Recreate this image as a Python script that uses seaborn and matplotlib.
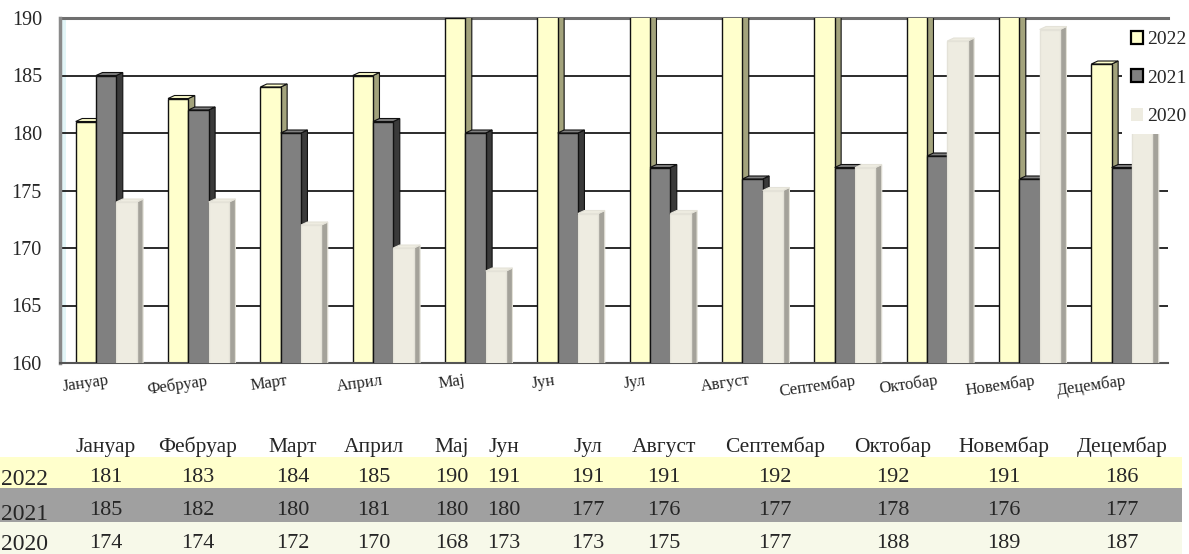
#!/usr/bin/env python3
"""
Monthly values 2020-2022: pseudo-3D clustered bars with a data table underneath.
"""

import pandas as pd
import seaborn as sns
import matplotlib.pyplot as plt
from matplotlib.patches import Polygon, Rectangle, Patch


months = ["Јануар", "Фебруар", "Март", "Април", "Мај", "Јун", "Јул",
          "Август", "Септембар", "Октобар", "Новембар", "Децембар"]
years = ["2022", "2021", "2020"]
values_2022 = [181, 183, 184, 185, 190, 191, 191, 191, 192, 192, 191, 186]
values_2021 = [185, 182, 180, 181, 180, 180, 177, 176, 177, 178, 176, 177]
values_2020 = [174, 174, 172, 170, 168, 173, 173, 175, 177, 188, 189, 187]
y_ticks = [160, 165, 170, 175, 180, 185, 190]

W, H = 1189, 554

front = {"2022": "#FFFFCC", "2021": "#808080", "2020": "#EEECE1"}
side = {"2022": "#A3A37C", "2021": "#3A3A3A", "2020": "#A4A29A"}
edge = {"2022": "#111111", "2021": "#111111", "2020": "#E4E2D8"}
band = {"2022": "#FFFFCC", "2021": "#A0A0A0", "2020": "#F7F9E9"}


def fx(px):
    return px / W


def fy(py):
    return 1 - py / H


def build_frame():
    series = {"2022": values_2022, "2021": values_2021, "2020": values_2020}
    rows = []
    for yr in years:
        for m, v in zip(months, series[yr]):
            rows.append({"month": m, "year": yr, "value": v})
    return pd.DataFrame(rows), series


def draw_chart(fig, df):
    ax = fig.add_axes([fx(60), fy(363), fx(1168 - 60), (363 - 18) / H])
    ax.set_axisbelow(True)
    sns.barplot(data=df, x="month", y="value", hue="year", hue_order=years,
                order=months, palette=front, width=0.66, saturation=1,
                legend=False, ax=ax)
    ax.set_ylim(160, 190)
    ax.set_xlim(-0.5, 11.5)

    # fake depth: side and top faces built from each seaborn bar
    dx, dy = 0.07, 0.26
    for k, (yr, cont) in enumerate(zip(years, ax.containers)):
        for bar in cont:
            x0, w, h = bar.get_x(), bar.get_width(), bar.get_height()
            bar.set_edgecolor(edge[yr])
            bar.set_linewidth(1.0)
            bar.set_zorder(2 + k)
            x1 = x0 + w
            ax.add_patch(Polygon([(x1, 0), (x1 + dx, dy), (x1 + dx, h + dy), (x1, h)],
                                 closed=True, facecolor=side[yr], edgecolor=edge[yr],
                                 linewidth=0.8, zorder=1.9 + k))
            ax.add_patch(Polygon([(x0, h), (x0 + dx, h + dy), (x1 + dx, h + dy), (x1, h)],
                                 closed=True, facecolor=front[yr], edgecolor=edge[yr],
                                 linewidth=0.8, zorder=1.9 + k))

    # left wall hint
    ax.axvspan(-0.5, -0.43, color="#E2F5F7", zorder=0.4, lw=0)

    ax.yaxis.grid(True, color="#1a1a1a", linewidth=1.3)
    ax.xaxis.grid(False)
    ax.set_yticks(y_ticks)
    ax.tick_params(axis="y", length=5, width=1.2, color="#333333", pad=8,
                   labelsize=14.5, direction="out")

    label_pos = [i - 0.22 - 0.01 * i for i in range(len(months))]
    ax.set_xticks(label_pos)
    ax.set_xticklabels(months, rotation=8, fontsize=12)
    ax.set_xticks([i - 0.5 for i in range(len(months) + 1)], minor=True)
    ax.tick_params(axis="x", which="major", length=0, pad=7)
    ax.tick_params(axis="x", which="minor", length=5, width=1.2,
                   color="#333333", direction="inout")
    ax.set_xlabel("")
    ax.set_ylabel("")

    ax.spines["right"].set_visible(False)
    ax.spines["left"].set_color("#8a8a8a")
    ax.spines["left"].set_linewidth(2.5)
    ax.spines["bottom"].set_color("#555555")
    ax.spines["bottom"].set_linewidth(1.5)
    ax.spines["top"].set_color("#6f6f6f")
    ax.spines["top"].set_linewidth(2.2)
    ax.spines["top"].set_zorder(0.6)

    handles = [Patch(facecolor=front["2022"], edgecolor="black", linewidth=1.6),
               Patch(facecolor=front["2021"], edgecolor="black", linewidth=1.6),
               Patch(facecolor=front["2020"], edgecolor="none")]
    fig.legend(handles, years, loc="upper left",
               bbox_to_anchor=(fx(1122), fy(22)), frameon=True,
               facecolor="white", edgecolor="none", framealpha=1,
               fancybox=False, fontsize=14, handlelength=0.65,
               handleheight=0.65, handletextpad=0.2, labelspacing=1.1,
               borderpad=0.45, borderaxespad=0)
    return ax


def draw_table(fig, series):
    col_x = [106, 198, 293, 374, 452, 504, 588, 664, 775, 893, 1004, 1122]
    bands = {"2022": (457, 488), "2021": (488, 522), "2020": (522, 554)}
    value_base = {"2022": 482, "2021": 515, "2020": 548}
    year_base = {"2022": 485, "2021": 520, "2020": 550}

    for yr in years:
        top, bot = bands[yr]
        fig.add_artist(Rectangle((0, fy(bot)), fx(1182), (bot - top) / H,
                                 transform=fig.transFigure, facecolor=band[yr],
                                 edgecolor="none", zorder=0))

    for x, m in zip(col_x, months):
        fig.text(fx(x), fy(452), m, ha="center", va="baseline", fontsize=15.5)

    for yr in years:
        fig.text(fx(1), fy(year_base[yr]), yr, ha="left", va="baseline",
                 fontsize=17)
        for x, v in zip(col_x, series[yr]):
            fig.text(fx(x), fy(value_base[yr]), str(v), ha="center",
                     va="baseline", fontsize=16)


def main():
    sns.set_style("white")
    plt.rcParams["font.family"] = ["Liberation Serif", "DejaVu Serif"]
    df, series = build_frame()

    fig = plt.figure(figsize=(W / 100, H / 100), dpi=100)
    draw_chart(fig, df)
    draw_table(fig, series)
    fig.savefig("out.png", dpi=100)
    plt.close(fig)


if __name__ == "__main__":
    main()
